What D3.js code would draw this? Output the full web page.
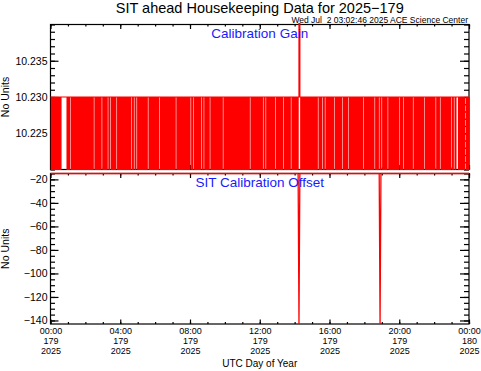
<!DOCTYPE html>
<html>
<head>
<meta charset="utf-8">
<script src="https://cdn.jsdelivr.net/npm/d3@7"></script>
<style>
  body { margin: 0; background: #fff; }
  svg { display: block; }
</style>
</head>
<body>
<svg id="chart" width="481" height="371"></svg>
<script>
// calibration gain, one 3-minute sample per character, one string per UTC hour
// 0 = 10.220, 1 = 10.230, 2 = off scale (high)
var gainHours = [
  "10101010101011111110",
  "10110101010101010101",
  "01010101011010101011",
  "01010110110101011010",
  "10101010101011011011",
  "01010101010110101010",
  "10101101010101010101",
  "01011010101010101010",
  "11011010101011011010",
  "10110101010101010110",
  "10101010101010101010",
  "10101010110101010101",
  "01011011010101010110",
  "10101011010101011010",
  "10101210101010101010",
  "10101011010110110101",
  "01010110101010110101",
  "01101010101010101011",
  "01010101010110101101",
  "10101011010101010101",
  "10101101010101011010",
  "10101010110101010101",
  "01101011010101010101",
  "10110111010101011010"
]
var gainEnd = "1"
var gainLevels = [10.220, 10.230, 10.245]

// calibration offset (hours of day, value)
var offsetHours = [0, 14.20, 14.25, 14.30, 18.85, 18.90, 18.95, 24]
var offsetValues = [-15, -15, -143, -15, -15, -143, -15, -15]

var gainTicks = [10.225, 10.230, 10.235]
var offsetTicks = [-20, -40, -60, -80, -100, -120, -140]

var xTickHours = [0, 4, 8, 12, 16, 20, 24]
var xTickClock = ['00:00', '04:00', '08:00', '12:00', '16:00', '20:00', '00:00']
var xTickDoy = ['179', '179', '179', '179', '179', '179', '180']
var xTickYear = ['2025', '2025', '2025', '2025', '2025', '2025', '2025']

var font = '"Liberation Sans", Arial, Helvetica, sans-serif'
var red = '#ff0000', blue = '#1a1aff'

var gainPoints = []
gainHours.forEach(function(str, h){
  str.split('').forEach(function(ch, j){
    gainPoints.push([h + j/str.length, gainLevels[+ch]])
  })
})
gainPoints.push([24, gainLevels[+gainEnd]])

var offsetPoints = offsetHours.map((d, i) => [d, offsetValues[i]])

var svg = d3.select('#chart').attr('font-family', font)

var left = 50.5, right = 469
var x = d3.scaleLinear().domain([0, 24]).range([left, right])

var panels = [
  {top: 24.5, bottom: 169.5, domain: [10.220, 10.240], ticks: gainTicks, minor: 20,
    fmt: d3.format('.3f'), label: 'Calibration Gain', labelY: 37.5, data: gainPoints,
    sw: 1.2, curve: d3.curveStepAfter},
  {top: 173.5, bottom: 324, domain: [-143, -15], ticks: offsetTicks, minor: 25,
    fmt: d3.format('d'), label: 'SIT Calibration Offset', labelY: 186.5, data: offsetPoints,
    sw: 1.3, curve: d3.curveLinear}
]

panels.forEach(function(p, i){
  var y = d3.scaleLinear().domain(p.domain).range([p.bottom, p.top])
  var g = svg.append('g')

  g.append('rect')
    .attr('x', left).attr('y', p.top)
    .attr('width', right - left).attr('height', p.bottom - p.top)
    .attr('fill', 'none').attr('stroke', '#000').attr('stroke-width', 1.2)

  function axis(gen, tx, ty){
    var a = g.append('g').attr('transform', `translate(${tx},${ty})`).call(gen)
    a.select('.domain').remove()
    a.selectAll('.tick line').attr('stroke-width', 1.2)
    a.attr('font-family', font).attr('font-size', 10.5)
    return a
  }

  // y ticks, left and right
  axis(d3.axisLeft(y).tickValues(y.ticks(p.minor)).tickSize(-4.5).tickFormat(''), left, 0)
  axis(d3.axisLeft(y).tickValues(p.ticks).tickSize(-8).tickPadding(3).tickFormat(p.fmt), left, 0)
  axis(d3.axisRight(y).tickValues(y.ticks(p.minor)).tickSize(-5).tickFormat(''), right, 0)
  axis(d3.axisRight(y).tickValues(p.ticks).tickSize(-9).tickFormat(''), right, 0)

  // x ticks, top and bottom
  axis(d3.axisTop(x).tickValues(x.ticks(24)).tickSize(-2).tickFormat(''), 0, p.top)
  axis(d3.axisTop(x).tickValues(xTickHours).tickSize(-4.5).tickFormat(''), 0, p.top)
  axis(d3.axisBottom(x).tickValues(x.ticks(24)).tickSize(-2).tickFormat(''), 0, p.bottom)
  var xb = axis(d3.axisBottom(x).tickValues(xTickHours).tickSize(-4.5).tickFormat(''), 0, p.bottom)

  if (i == 1){
    xb.selectAll('.tick text').remove()
    var lab = xb.selectAll('.tick').append('text')
      .attr('fill', '#000').attr('text-anchor', 'middle').attr('font-size', 9)
    lab.each(function(d, k){
      var t = d3.select(this)
      ;[xTickClock[k], xTickDoy[k], xTickYear[k]].forEach(function(s, n){
        t.append('tspan').attr('x', 0).attr('y', 9.8 + n*9.9).text(s)
      })
    })
  }

  svg.append('text')
    .attr('transform', `translate(8.5,${(p.top + p.bottom)/2}) rotate(-90)`)
    .attr('text-anchor', 'middle').attr('font-size', 10.5)
    .text('No Units')

  var clipId = 'clip' + i
  svg.append('clipPath').attr('id', clipId).append('rect')
    .attr('x', left - 1).attr('y', p.top - 1.5)
    .attr('width', right - left + 2).attr('height', p.bottom - p.top + 3)

  svg.append('path')
    .datum(p.data)
    .attr('clip-path', `url(#${clipId})`)
    .attr('fill', 'none').attr('stroke', red).attr('stroke-width', p.sw)
    .attr('d', d3.line().curve(p.curve).x(d => x(d[0])).y(d => y(d[1])))

  svg.append('text')
    .attr('x', (left + right)/2).attr('y', p.labelY)
    .attr('text-anchor', 'middle').attr('font-size', 13.5).attr('fill', blue)
    .text(p.label)
})

svg.append('text')
  .attr('x', (left + right)/2).attr('y', 12.5)
  .attr('text-anchor', 'middle').attr('font-size', 14.5)
  .text('SIT ahead Housekeeping Data for 2025\u2212179')

svg.append('text')
  .attr('x', 468).attr('y', 22.5)
  .attr('text-anchor', 'end').attr('font-size', 8.5)
  .style('white-space', 'pre')
  .text('Wed Jul  2 03:02:46 2025 ACE Science Center')

svg.append('text')
  .attr('x', (left + right)/2).attr('y', 367)
  .attr('text-anchor', 'middle').attr('font-size', 10)
  .text('UTC Day of Year')
</script>
</body>
</html>
